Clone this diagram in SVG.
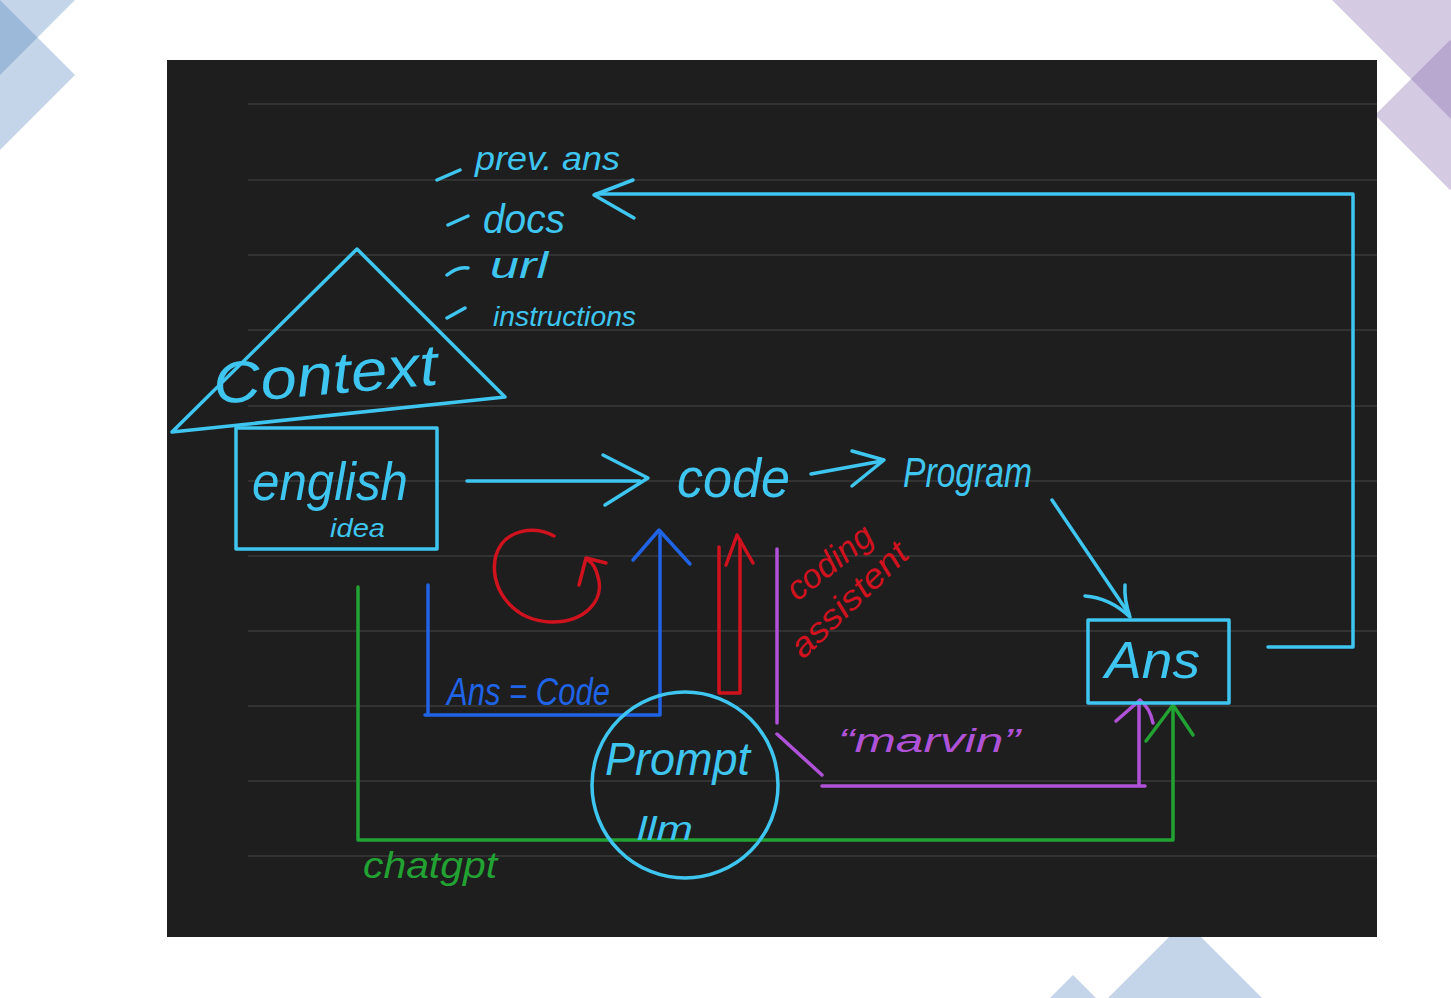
<svg xmlns="http://www.w3.org/2000/svg" width="1451" height="998" viewBox="0 0 1451 998">
<style>
.cy{stroke:#3ec6f0;fill:none;stroke-width:3.5;stroke-linecap:round;stroke-linejoin:round}
.bl{stroke:#1f63e6;fill:none;stroke-width:3.5;stroke-linecap:round;stroke-linejoin:round}
.rd{stroke:#d0121e;fill:none;stroke-width:3.5;stroke-linecap:round;stroke-linejoin:round}
.pu{stroke:#b052d8;fill:none;stroke-width:3.5;stroke-linecap:round;stroke-linejoin:round}
.gr{stroke:#22a232;fill:none;stroke-width:3.5;stroke-linecap:round;stroke-linejoin:round}
.rule{stroke:#3a3a3a;stroke-width:1.5}
text{font-family:"Liberation Sans","DejaVu Sans",sans-serif;font-style:italic}
.tc{fill:#3ec6f0}.tb{fill:#1f63e6}.tr{fill:#d0121e}.tp{fill:#b052d8}.tg{fill:#22a232}
</style>
<rect width="1451" height="998" fill="#ffffff"/>
<g id="decor">
<polygon points="0,0 75,75 0,150 -75,75" fill="rgb(82,132,190)" fill-opacity="0.34"/>
<polygon points="0,-75 75,0 0,75 -75,0" fill="rgb(82,132,190)" fill-opacity="0.34"/>
<polygon points="1311,-21 1451,-161 1591,-21 1451,119" fill="rgb(132,104,172)" fill-opacity="0.35"/>
<polygon points="1450,40 1525,115 1450,190 1375,115" fill="rgb(132,104,172)" fill-opacity="0.35"/>
<polygon points="1185,921 1262,998 1108,998" fill="#c4d5e9"/>
<polygon points="1073,975 1096,998 1050,998" fill="#c4d5e9"/>
</g>
<rect id="panel" x="167" y="60" width="1210" height="877" fill="#1e1e1e"/>
<g id="rules">
<line class="rule" x1="248" y1="104" x2="1377" y2="104"/>
<line class="rule" x1="248" y1="180" x2="1377" y2="180"/>
<line class="rule" x1="248" y1="255" x2="1377" y2="255"/>
<line class="rule" x1="248" y1="330" x2="1377" y2="330"/>
<line class="rule" x1="248" y1="406" x2="1377" y2="406"/>
<line class="rule" x1="248" y1="481" x2="1377" y2="481"/>
<line class="rule" x1="248" y1="556" x2="1377" y2="556"/>
<line class="rule" x1="248" y1="631" x2="1377" y2="631"/>
<line class="rule" x1="248" y1="706" x2="1377" y2="706"/>
<line class="rule" x1="248" y1="781" x2="1377" y2="781"/>
<line class="rule" x1="248" y1="856" x2="1377" y2="856"/>
</g>
<g id="connectors">
<!-- feedback Ans -> context list -->
<path class="cy" d="M1268,647 L1353,647 L1353,194 L596,194"/>
<path class="cy" d="M633,180 L594,195 L634,218"/>
<!-- english -> code -->
<path class="cy" d="M467,481 L640,481"/>
<path class="cy" d="M603,455 L648,478 L605,505"/>
<!-- code -> program -->
<path class="cy" d="M811,474 L882,461"/>
<path class="cy" d="M852,451 L884,460 L852,486"/>
<!-- program -> Ans -->
<path class="cy" d="M1052,500 L1129,614"/>
<path class="cy" d="M1085,596 Q1110,598 1130,617 Q1124,600 1125,585"/>
<!-- blue Ans=Code bracket -->
<path class="bl" d="M428,585 L428,715 M425,715 L660,715 L660,533"/>
<path class="bl" d="M633,560 L659,530 L690,564"/>
<!-- red arrow up -->
<path class="rd" d="M719,547 L719,693 L740,693 L740,540"/>
<path class="rd" d="M726,565 L737,535 L753,563"/>
<!-- purple coding assistant / marvin -->
<path class="pu" d="M777,549 L777,723"/>
<path class="pu" d="M777,734 L822,775"/>
<path class="pu" d="M822,786 L1145,786 M1139,786 L1139,704"/>
<path class="pu" d="M1116,721 L1140,700 Q1150,708 1153,723"/>
<!-- green chatgpt -->
<path class="gr" d="M358,587 L358,840 L1173,840 L1173,705"/>
<path class="gr" d="M1146,741 L1173,705 L1193,735"/>
</g>
<g id="context">
<polygon class="cy" points="357,249 505,397 172,432"/>
<text class="tc" x="215" y="404" font-size="58" textLength="225" lengthAdjust="spacingAndGlyphs" transform="rotate(-5 215 404)">Context</text>
</g>
<g id="context-list">
<path class="cy" d="M437,180 L460,170 M448,225 L468,216 M447,275 Q458,266 468,268 M447,318 L465,308"/>
<text class="tc" x="475" y="170" font-size="34" textLength="145" lengthAdjust="spacingAndGlyphs">prev. ans</text>
<text class="tc" x="483" y="233" font-size="40" textLength="82" lengthAdjust="spacingAndGlyphs">docs</text>
<text class="tc" x="490" y="278" font-size="36" textLength="58" lengthAdjust="spacingAndGlyphs">url</text>
<text class="tc" x="493" y="326" font-size="28" textLength="143" lengthAdjust="spacingAndGlyphs">instructions</text>
</g>
<g id="english-idea">
<rect class="cy" x="236" y="428" width="201" height="121"/>
<text class="tc" x="252" y="500" font-size="54" textLength="156" lengthAdjust="spacingAndGlyphs">english</text>
<text class="tc" x="330" y="537" font-size="26" textLength="55" lengthAdjust="spacingAndGlyphs">idea</text>
</g>
<g id="code">
<text class="tc" x="677" y="497" font-size="56" textLength="113" lengthAdjust="spacingAndGlyphs">code</text>
</g>
<g id="program">
<text class="tc" x="903" y="487" font-size="42" textLength="129" lengthAdjust="spacingAndGlyphs">Program</text>
</g>
<g id="ans">
<rect class="cy" x="1088" y="620" width="141" height="83"/>
<text class="tc" x="1105" y="678" font-size="52" textLength="95" lengthAdjust="spacingAndGlyphs">Ans</text>
</g>
<g id="loop">
<path class="rd" d="M554,536 C535,526 505,528 496,555 C488,585 510,620 550,622 C585,623 605,600 598,577 C596,568 593,563 588,560"/>
<path class="rd" d="M579,585 L586,558 L606,563"/>
</g>
<g id="prompt-llm">
<circle class="cy" cx="685" cy="785" r="93"/>
<text class="tc" x="605" y="775" font-size="46" textLength="145" lengthAdjust="spacingAndGlyphs">Prompt</text>
<text class="tc" x="637" y="840" font-size="34" textLength="56" lengthAdjust="spacingAndGlyphs">llm</text>
</g>
<g id="labels">
<text class="tb" x="447" y="705" font-size="38" textLength="163" lengthAdjust="spacingAndGlyphs">Ans = Code</text>
<text class="tr" x="797" y="602" font-size="34" textLength="100" lengthAdjust="spacingAndGlyphs" transform="rotate(-38 797 602)">coding</text>
<text class="tr" x="803" y="660" font-size="34" textLength="150" lengthAdjust="spacingAndGlyphs" transform="rotate(-44 803 660)">assistent</text>
<text class="tp" x="838" y="752" font-size="34" textLength="182" lengthAdjust="spacingAndGlyphs">“marvin”</text>
<text class="tg" x="363" y="878" font-size="36" textLength="134" lengthAdjust="spacingAndGlyphs">chatgpt</text>
</g>
</svg>
